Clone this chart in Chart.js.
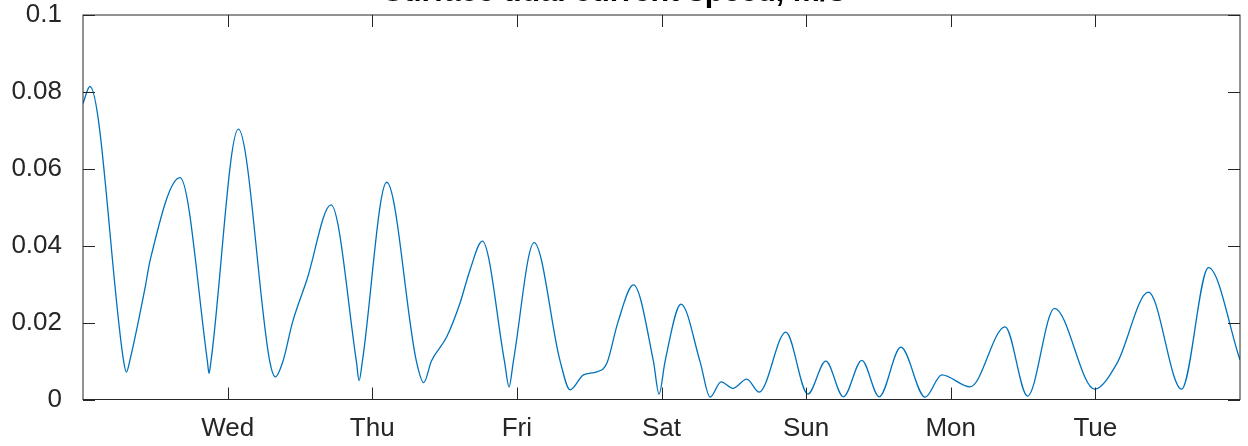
<!DOCTYPE html>
<html>
<head>
<meta charset="utf-8">
<script src="https://cdn.jsdelivr.net/npm/chart.js@4/dist/chart.umd.min.js"></script>
<style>
  html, body { margin: 0; padding: 0; background: #fff; }
  #wrap { width: 1248px; height: 446px; }
</style>
</head>
<body>
<div id="wrap"><canvas id="speedChart" width="1248" height="446"></canvas></div>
<script>
// time in days from the left edge, speed in m/s
const dayPos = [0.000, 0.048, 0.281, 0.300, 0.323, 0.429, 0.463, 0.671, 0.860, 0.871,
  0.885, 1.074, 1.291, 1.330, 1.383, 1.448, 1.547, 1.715, 1.890, 1.909,
  1.932, 2.100, 2.305, 2.356, 2.409, 2.515, 2.607, 2.676, 2.761, 2.914,
  2.946, 2.976, 3.119, 3.299, 3.368, 3.460, 3.553, 3.622, 3.698, 3.806,
  3.944, 3.983, 4.025, 4.135, 4.267, 4.336, 4.412, 4.493, 4.590, 4.675,
  4.860, 5.012, 5.136, 5.258, 5.385, 5.505, 5.655, 5.823, 5.938, 6.134,
  6.376, 6.531, 6.717, 6.995, 7.149, 7.367, 7.596, 7.782, 8.000];
const speed = [0.0770, 0.0814, 0.0100, 0.0071, 0.0100, 0.0290, 0.0360, 0.0577, 0.0100, 0.0068,
  0.0100, 0.0703, 0.0100, 0.0059, 0.0100, 0.0200, 0.0310, 0.0506, 0.0100, 0.0049,
  0.0100, 0.0565, 0.0100, 0.0044, 0.0100, 0.0163, 0.0251, 0.0337, 0.0412, 0.0100,
  0.0033, 0.0100, 0.0408, 0.0100, 0.0025, 0.0064, 0.0072, 0.0094, 0.0200, 0.0298,
  0.0100, 0.0014, 0.0100, 0.0248, 0.0098, 0.0006, 0.0046, 0.0029, 0.0053, 0.0019,
  0.0175, 0.0014, 0.0100, 0.0007, 0.0102, 0.0007, 0.0136, 0.0006, 0.0064, 0.0033,
  0.0189, 0.0009, 0.0237, 0.0027, 0.0094, 0.0279, 0.0027, 0.0343, 0.0103];
const dayLabels = ['', 'Wed', 'Thu', 'Fri', 'Sat', 'Sun', 'Mon', 'Tue', ''];
const yTicks = [0, 0.02, 0.04, 0.06, 0.08, 0.1];
const yTickLabels = ['0', '0.02', '0.04', '0.06', '0.08', '0.1'];
const titleText = 'Surface tidal current speed, m/s';

const axisColor = '#262626';
const tickFont = { family: 'Liberation Sans', size: 26 };

// box and inward tick marks, plus the clipped title
const boxPlugin = {
  id: 'box',
  afterDraw(chart) {
    const ctx = chart.ctx;
    const a = chart.chartArea;
    const xs = chart.scales.x, ys = chart.scales.y;
    const len = 12;
    ctx.save();
    ctx.strokeStyle = axisColor;
    ctx.lineWidth = 1;
    ctx.strokeRect(a.left, a.top, a.right - a.left, a.bottom - a.top);
    ctx.beginPath();
    for (let i = 1; i < dayLabels.length - 1; i++) {
      const px = Math.round(xs.getPixelForValue(i)) + 0.5;
      ctx.moveTo(px, a.bottom); ctx.lineTo(px, a.bottom - len);
      ctx.moveTo(px, a.top); ctx.lineTo(px, a.top + len);
    }
    yTicks.forEach(v => {
      const py = Math.round(ys.getPixelForValue(v)) + 0.5;
      ctx.moveTo(a.left, py); ctx.lineTo(a.left + len, py);
      ctx.moveTo(a.right, py); ctx.lineTo(a.right - len, py);
    });
    ctx.stroke();
    ctx.fillStyle = '#000';
    ctx.font = 'bold 30.5px "Liberation Sans"';
    ctx.textAlign = 'center';
    ctx.textBaseline = 'alphabetic';
    ctx.fillText(titleText, 614, 0.8);
    ctx.restore();
  }
};

const ctx = document.getElementById('speedChart').getContext('2d');
new Chart(ctx, {
  type: 'line',
  data: {
    datasets: [{
      data: dayPos.map((d, i) => ({ x: d, y: speed[i] })),
      borderColor: '#0072BD',
      borderWidth: 1.3,
      pointRadius: 0,
      fill: false,
      cubicInterpolationMode: 'monotone'
    }]
  },
  options: {
    responsive: false,
    animation: false,
    devicePixelRatio: 1,
    layout: { padding: { top: 15, right: 8, left: 0, bottom: 0 } },
    plugins: { legend: { display: false }, tooltip: { enabled: false }, title: { display: false } },
    scales: {
      x: {
        type: 'linear',
        min: 0, max: 8,
        grid: { display: false, drawTicks: false },
        border: { display: false },
        afterFit(s) { s.height = 46.5; s.paddingLeft = 0; s.paddingRight = 0; },
        afterBuildTicks(s) { s.ticks = dayLabels.map((_, i) => ({ value: i })); },
        ticks: {
          color: axisColor, font: tickFont, padding: 14, maxRotation: 0, autoSkip: false,
          callback: (v) => dayLabels[v]
        }
      },
      y: {
        min: 0, max: 0.1,
        grid: { display: false, drawTicks: false },
        border: { display: false },
        afterFit(s) { s.width = 83; s.paddingTop = 0; s.paddingBottom = 0; },
        afterBuildTicks(s) { s.ticks = yTicks.map(v => ({ value: v })); },
        ticks: {
          color: axisColor, font: tickFont, padding: 21,
          callback: (v) => yTickLabels[yTicks.indexOf(v)]
        }
      }
    }
  },
  plugins: [boxPlugin]
});
</script>
</body>
</html>
